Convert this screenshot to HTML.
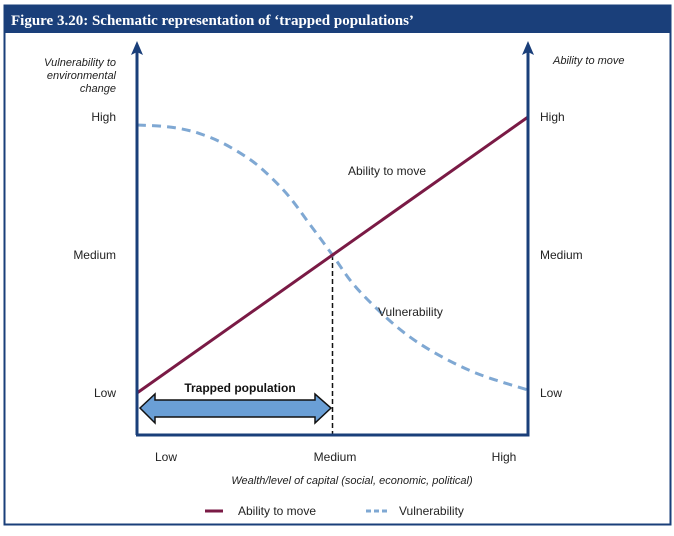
<!DOCTYPE html>
<html><head><meta charset="utf-8"><style>
body{margin:0;background:#fff;width:674px;height:531px;overflow:hidden;font-family:"Liberation Sans",sans-serif}
</style></head><body>
<svg width="674" height="531" xmlns="http://www.w3.org/2000/svg">
<rect x="4.5" y="5.5" width="666" height="519" fill="none" stroke="#1a3f7a" stroke-width="2"/>
<rect x="4" y="5" width="667" height="28" fill="#1a3f7a"/>
<text x="11" y="25" fill="#fff" font-family="Liberation Serif, serif" font-weight="bold" font-size="15">Figure 3.20: Schematic representation of ‘trapped populations’</text>
<g font-size="11" fill="#222" font-style="italic">
<text x="116" y="66" text-anchor="end">Vulnerability to</text>
<text x="116" y="79" text-anchor="end">environmental</text>
<text x="116" y="92" text-anchor="end">change</text>
<text x="553" y="64">Ability to move</text>
<text x="352" y="484" text-anchor="middle">Wealth/level of capital (social, economic, political)</text>
</g>
<g id="ticks" font-size="12" fill="#222"></g>
<g id="plot"></g>
<line x1="137" y1="435" x2="137" y2="52" stroke="#1a3f7a" stroke-width="3"/>
<path d="M131,55 L137,41 L143,55 L137,52 Z" fill="#1a3f7a"/>
<line x1="528" y1="435" x2="528" y2="52" stroke="#1a3f7a" stroke-width="3"/>
<path d="M522,55 L528,41 L534,55 L528,52 Z" fill="#1a3f7a"/>
<line x1="136" y1="435" x2="529.5" y2="435" stroke="#1a3f7a" stroke-width="3"/>
<text x="348" y="175" font-size="12" fill="#222">Ability to move</text>
<text x="378" y="316" font-size="12" fill="#222">Vulnerability</text>
<text x="240" y="392" font-size="12" font-weight="bold" fill="#111" text-anchor="middle">Trapped population</text>
<path d="M140,408 L155,394 L155,400 L315,400 L315,394 L331,408 L315,423 L315,417 L155,417 L155,423 Z" fill="#6a9fd6" stroke="#111" stroke-width="1.5"/>
<line x1="205" y1="511" x2="223" y2="511" stroke="#7a1a45" stroke-width="3"/>
<text x="238" y="515" font-size="12" fill="#222">Ability to move</text>
<line x1="366" y1="511" x2="388" y2="511" stroke="#7fa8d3" stroke-width="3" stroke-dasharray="5,3"/>
<text x="399" y="515" font-size="12" fill="#222">Vulnerability</text>
</svg>
<script>
const levelLabels = ["Low","Medium","High"];
const levelValues = [0,0.5,1];
const abilityX = [0,1];
const abilityY = [0,1];
const vulnX = [0,0.06,0.11,0.16,0.22,0.29,0.34,0.39,0.44,0.50,0.55,0.61,0.68,0.75,0.83,0.90,1];
const vulnY = [0.971,0.967,0.958,0.94,0.905,0.845,0.785,0.71,0.615,0.5,0.40,0.31,0.222,0.155,0.095,0.055,0.011];
const crossX = 0.5;
const ns="http://www.w3.org/2000/svg";
const sx = v => 137 + v*391;
const sy = v => 393 - v*276;
const xLab = v => 166 + v*(504-166);
const ticks=document.getElementById('ticks'), plot=document.getElementById('plot');
function mk(t,a,p){const e=document.createElementNS(ns,t);for(const k in a)e.setAttribute(k,a[k]);p.appendChild(e);return e;}
levelLabels.forEach((l,i)=>{
 let t=mk('text',{x:116,y:sy(levelValues[i])+4,'text-anchor':'end'},ticks);t.textContent=l;
 
 
 t=mk('text',{x:540,y:sy(levelValues[i])+4},ticks);t.textContent=l;
 
 
 t=mk('text',{x:xLab(levelValues[i]),y:461,'text-anchor':'middle'},ticks);t.textContent=l;
 
 
});
function smooth(xs,ys){
 const P=xs.map((x,i)=>[sx(x),sy(ys[i])]);
 let s='M'+P[0][0]+','+P[0][1];
 for(let i=0;i<P.length-1;i++){
  const p0=P[Math.max(0,i-1)],p1=P[i],p2=P[i+1],p3=P[Math.min(P.length-1,i+2)];
  const c1=[p1[0]+(p2[0]-p0[0])/6,p1[1]+(p2[1]-p0[1])/6];
  const c2=[p2[0]-(p3[0]-p1[0])/6,p2[1]-(p3[1]-p1[1])/6];
  s+=' C'+c1[0]+','+c1[1]+' '+c2[0]+','+c2[1]+' '+p2[0]+','+p2[1];
 }
 return s;
}
let d=mk('line',{x1:sx(crossX),y1:sy(abilityY[0]+(abilityY[1]-abilityY[0])*crossX),x2:sx(crossX),y2:435,stroke:'#111','stroke-width':1.5,'stroke-dasharray':'5,3'},plot);


let v=mk('path',{d:smooth(vulnX,vulnY),fill:'none',stroke:'#7fa8d3','stroke-width':3,'stroke-dasharray':'9,6'},plot);


let a=mk('path',{d:abilityX.map((x,i)=>(i?'L':'M')+sx(x)+','+sy(abilityY[i])).join(' '),fill:'none',stroke:'#7a1a45','stroke-width':3},plot);


</script>
</body></html>
